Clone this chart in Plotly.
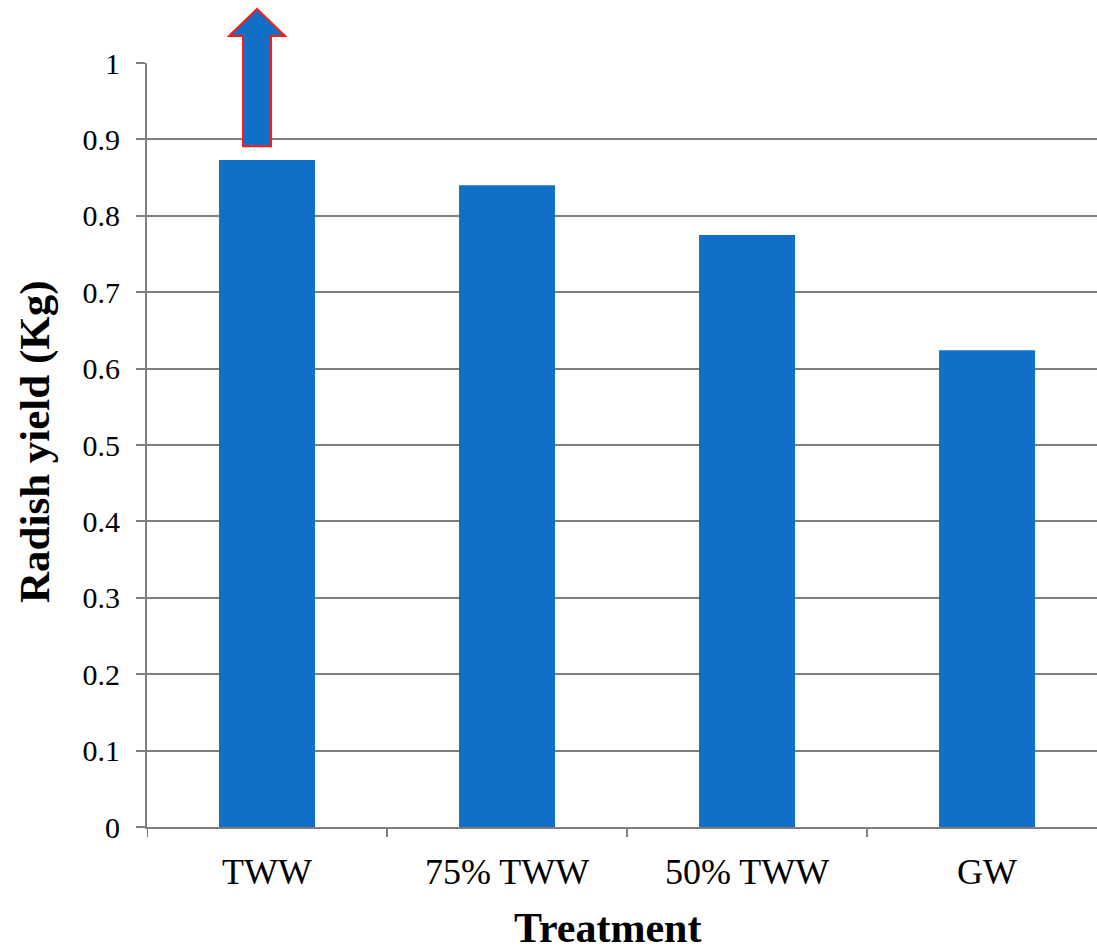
import plotly.graph_objects as go

# Radish yield by irrigation treatment
treatments = ["TWW", "75% TWW", "50% TWW", "GW"]
yield_kg = [0.873, 0.840, 0.775, 0.624]
y_ticks = [0, 0.1, 0.2, 0.3, 0.4, 0.5, 0.6, 0.7, 0.8, 0.9, 1]
y_tick_text = ["0", "0.1", "0.2", "0.3", "0.4", "0.5", "0.6", "0.7", "0.8", "0.9", "1"]

W, H = 1097, 952
L, R, T, B = 147, 0, 63, 125
X_RANGE = [-0.5, 3.458]
Y_RANGE = [0, 1]

serif = "Liberation Serif, Times New Roman, serif"
bar_color = "#1170C5"
grid_color = "#7F7F7F"

fig = go.Figure(
    go.Bar(
        x=list(range(len(treatments))),
        y=yield_kg,
        marker=dict(color=bar_color, line=dict(width=0)),
        width=0.4,
    )
)

plot_w = W - L - R
plot_h = H - T - B


def to_paper_x(v):
    return (v - X_RANGE[0]) / (X_RANGE[1] - X_RANGE[0])


def to_paper_y(v):
    return (v - Y_RANGE[0]) / (Y_RANGE[1] - Y_RANGE[0])


def px_x(n):
    return n / plot_w  # pixels -> paper x


def px_y(n):
    return n / plot_h  # pixels -> paper y


# Block arrow above the TWW bar
xc = to_paper_x(0) - px_x(10)
tip_y = 1 + px_y(54)
neck_y = 1 + px_y(27)
base_y = to_paper_y(0.891)
hw_head = px_x(28)
hw_shaft = px_x(14)
path = (
    f"M {xc - hw_shaft} {base_y} L {xc - hw_shaft} {neck_y} L {xc - hw_head} {neck_y} "
    f"L {xc} {tip_y} L {xc + hw_head} {neck_y} L {xc + hw_shaft} {neck_y} "
    f"L {xc + hw_shaft} {base_y} Z"
)
fig.add_shape(
    type="path", path=path, xref="paper", yref="paper",
    fillcolor=bar_color, line=dict(color="#FF1A1A", width=2), layer="above",
)

fig.update_layout(
    width=W, height=H,
    margin=dict(l=L, r=R, t=T, b=B),
    paper_bgcolor="white", plot_bgcolor="white",
    showlegend=False,
    bargap=0.6,
    font=dict(family=serif, color="black"),
    xaxis=dict(
        range=X_RANGE,
        tickmode="array",
        tickvals=list(range(len(treatments))),
        ticktext=treatments,
        tickfont=dict(size=36, family=serif, color="black"),
        showgrid=False,
        showline=True, linecolor=grid_color, linewidth=2,
        ticks="", zeroline=False,
        ticklabelstandoff=12,
    ),
    yaxis=dict(
        range=Y_RANGE,
        tickmode="array",
        tickvals=y_ticks,
        ticktext=y_tick_text,
        tickfont=dict(size=30, family=serif, color="black"),
        showgrid=True, gridcolor=grid_color, gridwidth=2,
        showline=True, linecolor=grid_color, linewidth=2,
        ticks="outside", ticklen=9, tickcolor=grid_color, tickwidth=2,
        zeroline=False,
        ticklabelstandoff=10,
    ),
    annotations=[
        dict(text="<b>Treatment</b>", xref="paper", yref="paper",
             x=px_x(607 - L), y=-px_y(928 - (H - B)), xanchor="center", yanchor="middle",
             showarrow=False, font=dict(size=42, family=serif, color="black")),
        dict(text="<b>Radish yield (Kg)</b>", xref="paper", yref="paper",
             x=-px_x(L - 35), y=px_y(H - B - 442), xanchor="center", yanchor="middle",
             textangle=-90,
             showarrow=False, font=dict(size=43, family=serif, color="black")),
    ],
)

# Category separator ticks below the x axis
for b in [-0.5, 0.5, 1.5, 2.5]:
    fig.add_shape(type="line", xref="x", yref="paper", x0=b, x1=b, y0=0, y1=-px_y(10),
                  line=dict(color=grid_color, width=2))

fig.write_html("out.html")
